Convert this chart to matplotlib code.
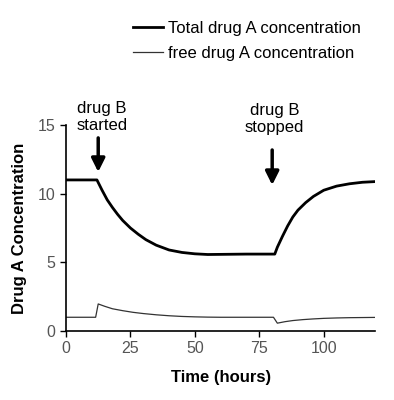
import matplotlib.pyplot as plt

plt.rcParams['font.family'] = ['Liberation Sans', 'DejaVu Sans']

# values
time_total = [0, 12, 14, 16, 18, 20, 22, 25, 28, 31, 35, 40, 45, 50, 55, 60, 70, 81,
              82, 84, 86, 88, 90, 93, 96, 100, 105, 110, 115, 120]
total_conc = [11.0, 11.0, 10.25, 9.55, 9.0, 8.5, 8.05, 7.5, 7.05, 6.65, 6.25, 5.9, 5.72, 5.62, 5.57, 5.58, 5.6, 5.6,
              6.1, 6.9, 7.65, 8.3, 8.8, 9.35, 9.8, 10.25, 10.55, 10.72, 10.83, 10.88]

time_free = [0, 11.5, 12.5, 15, 18, 22, 26, 30, 35, 40, 45, 50, 55, 60, 70, 80.5, 82,
             85, 88, 92, 96, 100, 105, 110, 115, 120]
free_conc = [1.0, 1.0, 1.97, 1.8, 1.62, 1.48, 1.36, 1.27, 1.18, 1.11, 1.06, 1.03, 1.01, 1.0, 1.0, 1.0, 0.57,
             0.68, 0.76, 0.83, 0.88, 0.92, 0.95, 0.97, 0.98, 0.99]

x_ticks = [0, 25, 50, 75, 100]
y_ticks = [0, 5, 10, 15]

events = [("drug B\nstarted", 14.0), ("drug B\nstopped", 80.8)]

fig = plt.figure(figsize=(3.94, 4.0), dpi=100)
ax = fig.add_axes([0.1675, 0.1725, 0.785, 0.515])

l1, = ax.plot(time_total, total_conc, color='black', lw=2.0)
l2, = ax.plot(time_free, free_conc, color='#333333', lw=0.9)

ax.set_xlim(0, 120)
ax.set_ylim(0, 15)
ax.set_xticks(x_ticks)
ax.set_yticks(y_ticks)
ax.tick_params(labelsize=11.5, labelcolor='#555555', direction='out', length=4, width=1)
for s in ['top', 'right']:
    ax.spines[s].set_visible(False)
ax.spines['left'].set_linewidth(1.2)
ax.spines['bottom'].set_linewidth(1.2)

ax.set_xlabel('Time (hours)', fontsize=12, fontweight='bold', labelpad=10)
ax.set_ylabel('Drug A Concentration', fontsize=12, fontweight='bold', labelpad=8)

# arrows marking drug B start / stop
arrow_x = [12.5, 80.0]
arrow_ys = [(14.06, 11.58), (13.18, 10.63)]
text_ys = [14.62, 14.5]
for (label, t), ax_x, (y0, y1), ty in zip(events, arrow_x, arrow_ys, text_ys):
    ax.annotate('', xy=(ax_x, y1), xytext=(ax_x, y0),
                arrowprops=dict(arrowstyle='-|>', lw=2.5, mutation_scale=20, color='black',
                                shrinkA=0, shrinkB=0),
                annotation_clip=False)
    ax.text(t, ty, label, ha='center', va='baseline', fontsize=12, linespacing=1.15, clip_on=False)

fig.legend([l1, l2], ['Total drug A concentration', 'free drug A concentration'],
           loc='upper left', bbox_to_anchor=(0.30, 0.985), frameon=False, fontsize=12,
           handlelength=1.8, handletextpad=0.3, labelspacing=0.6)

fig.savefig('out.png', dpi=100)
